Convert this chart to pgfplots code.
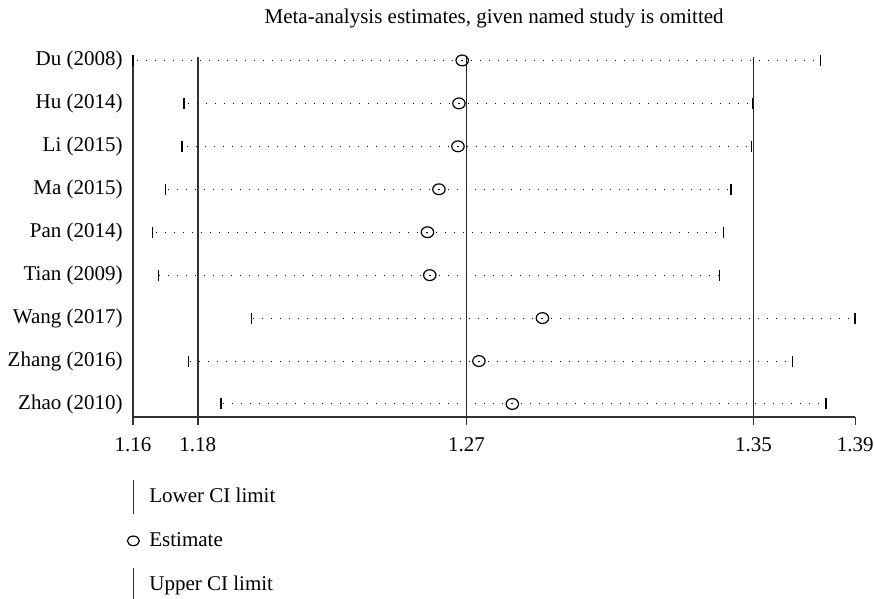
\documentclass[border=0pt]{standalone}
\usepackage{fontspec}
\setmainfont{Liberation Serif}
\usepackage{pgfplots}
\pgfplotsset{compat=1.18}
\usepackage{pgfplotstable}

% leave-one-out estimates: row, lower CI, estimate, upper CI
\pgfplotstableread{
y L E U
9 1.1641 1.2646 1.3740
8 1.1797 1.2636 1.3533
7 1.1791 1.2633 1.3530
6 1.1741 1.2575 1.3467
5 1.1701 1.2540 1.3444
4 1.1719 1.2547 1.3432
3 1.2003 1.2891 1.3845
2 1.1811 1.2697 1.3654
1 1.1910 1.2799 1.3756
}\studies

\begin{document}
\fontsize{10.5}{12.6}\selectfont
\begin{tikzpicture}
\path[use as bounding box] (0,0) rectangle (437pt,299.5pt);
\begin{axis}[
    at={(66.5pt,91pt)}, anchor=south west,
    scale only axis, width=361.15pt, height=180pt,
    xmin=1.1641, xmax=1.3846,
    ymin=0.697, ymax=9.08,
    clip=false,
    axis lines*=left,
    axis line style={black!80, line width=0.65pt},
    xtick={1.1641,1.1839,1.2659,1.3535,1.3846},
    xticklabels={1.16,1.18,1.27,1.35,1.39},
    ytick={1,...,9},
    yticklabels={Zhao (2010),Zhang (2016),Wang (2017),Tian (2009),Pan (2014),Ma (2015),Li (2015),Hu (2014),Du (2008)},
    tick align=outside, major tick length=4pt,
    xtick style={black!80, line width=0.65pt},
    ytick style={draw=none},
    yticklabel style={xshift=2.5pt},
    xticklabel style={yshift=-2.5pt},
    title={Meta-analysis estimates, given named study is omitted},
    title style={yshift=5pt},
    legend style={at={(-0.0092,-0.185)}, anchor=north west, draw=none, fill=none,
        row sep=9.3pt, inner sep=0pt},
    legend cell align=left,
]
% pooled estimate and its CI
\addplot[black!80, line width=0.65pt, forget plot] coordinates {(1.1839,0.697) (1.1839,9.08)};
\addplot[black!85, line width=0.6pt, forget plot] coordinates {(1.2659,0.697) (1.2659,9.08)};
\addplot[black!85, line width=0.6pt, forget plot] coordinates {(1.3535,0.697) (1.3535,9.08)};

% dotted CI lines
\addplot[draw=none, mark=none, forget plot,
    error bars/.cd, x dir=both, x explicit, error mark=none,
    error bar style={black, line width=0.5pt, dash pattern=on 0.5pt off 4pt}]
    table[x=E, y=y, x error plus expr=\thisrow{U}-\thisrow{E},
          x error minus expr=\thisrow{E}-\thisrow{L}] {\studies};

\addplot[only marks, mark=|, mark size=2.75pt, black, line width=0.7pt, forget plot]
    table[x=L, y=y] {\studies};
\addplot[only marks, mark=|, mark size=2.75pt, black, line width=0.7pt, forget plot]
    table[x=U, y=y] {\studies};
\addplot[only marks, mark=o, mark size=2.7pt, black, line width=0.6pt,
    mark options={xscale=1.15}, forget plot]
    table[x=E, y=y] {\studies};

\addlegendimage{legend image code/.code={
    \draw[overlay, black!80, line width=0.65pt] (0pt,-8.5pt) -- (0pt,8.5pt);
    \path[draw=none, fill=none] (-1pt,-1pt) rectangle (6pt,1pt);}}
\addlegendentry{Lower CI limit}
\addlegendimage{legend image code/.code={
    \draw[black, line width=0.6pt] (0pt,0pt) ellipse (3pt and 2.4pt);
    \path[draw=none, fill=none] (-1pt,-1pt) rectangle (6pt,1pt);}}
\addlegendentry{Estimate}
\addlegendimage{legend image code/.code={
    \draw[overlay, black!80, line width=0.65pt] (0pt,-8.5pt) -- (0pt,8.5pt);
    \path[draw=none, fill=none] (-1pt,-1pt) rectangle (6pt,1pt);}}
\addlegendentry{Upper CI limit}
\end{axis}
\end{tikzpicture}
\end{document}
